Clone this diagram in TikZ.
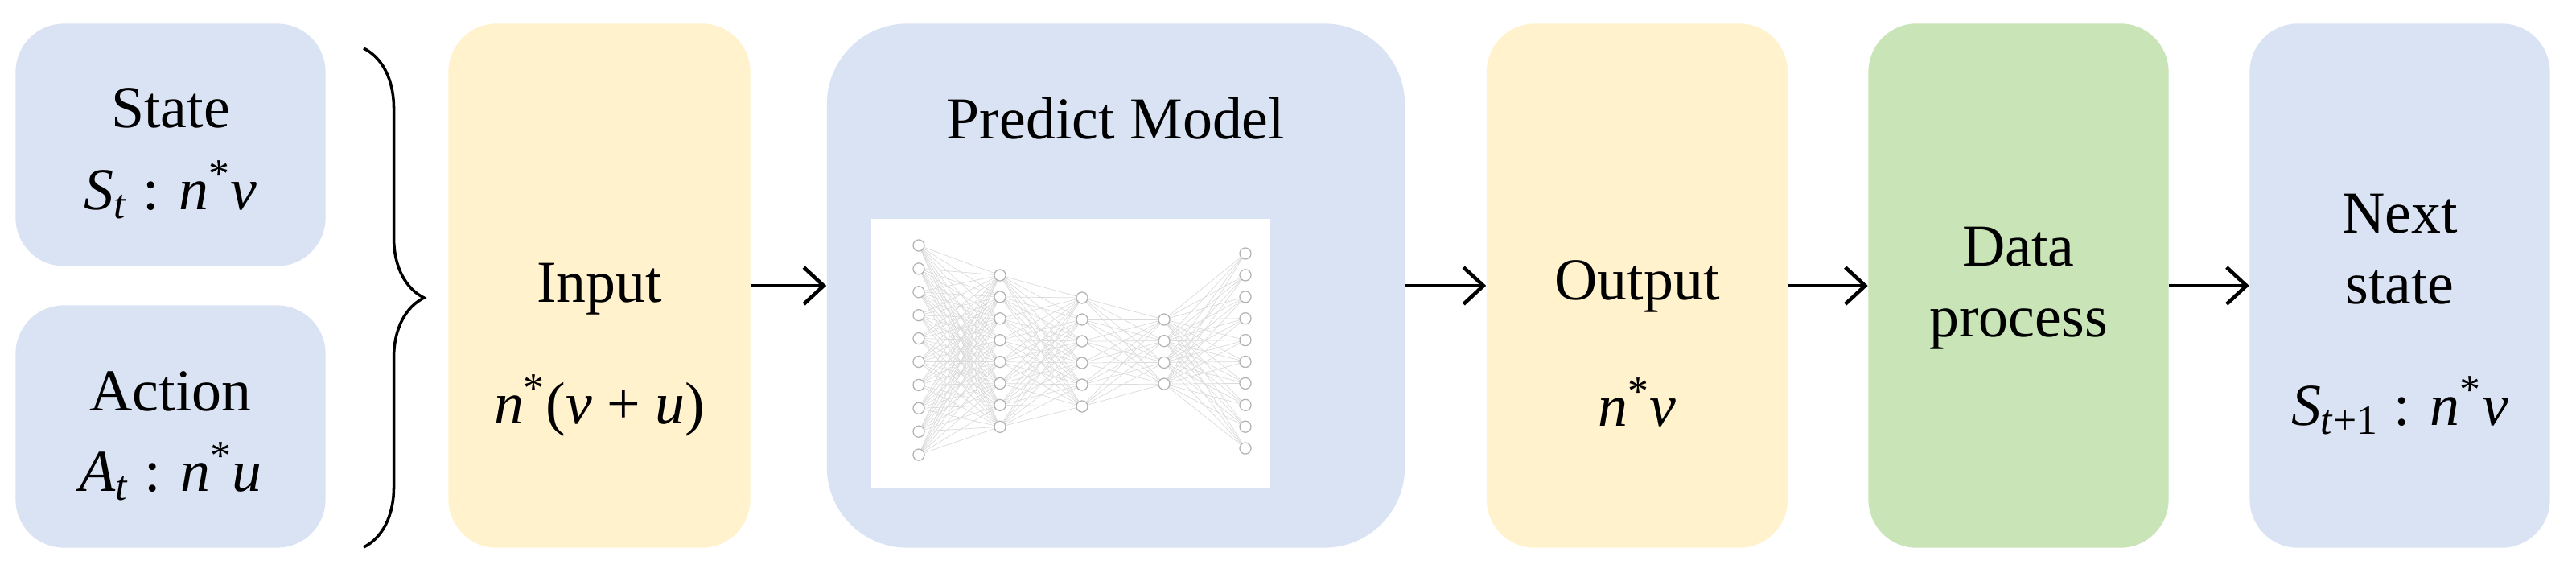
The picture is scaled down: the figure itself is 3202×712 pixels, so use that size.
\documentclass[tikz,border=0pt]{standalone}
\usepackage{fontspec}
\setmainfont{Liberation Serif}
\usetikzlibrary{arrows.meta,decorations.pathreplacing}

\definecolor{boxblue}{HTML}{DAE3F3}
\definecolor{boxyellow}{HTML}{FFF2CC}
\definecolor{boxgreen}{HTML}{C9E4B6}

\tikzset{
    box/.style={draw=none, rounded corners=0.6cm, inner sep=0pt, minimum height=6.51cm},
    lbl/.style={font=\fontsize{21}{25}\selectfont, align=center, inner sep=1pt},
    flow/.style={-{Straight Barb[length=7pt,width=13pt]}, line width=1.3pt},
    neuron/.style={circle, draw=gray!60, fill=white, line width=0.35pt, minimum size=4pt, inner sep=0pt},
}

\newcommand{\iv}[1]{\textit{#1}}

\begin{document}
\begin{tikzpicture}[x=0.01cm, y=-0.01cm]
        \useasboundingbox (0,0) rectangle (3202,712);

        % Boxes
        \node[box, fill=boxblue, minimum width=3.85cm, minimum height=3.01cm] (state) at (212,180) {};
        \node[box, fill=boxblue, minimum width=3.85cm, minimum height=3.01cm] (action) at (212,530) {};
        \node[box, fill=boxyellow, minimum width=3.75cm] (input) at (745,355) {};
        \node[box, fill=boxblue, rounded corners=1cm, minimum width=7.18cm] (model) at (1387,355) {};
        \node[box, fill=boxyellow, minimum width=3.74cm] (output) at (2035,355) {};
        \node[box, fill=boxgreen, minimum width=3.73cm] (proc) at (2509,355) {};
        \node[box, fill=boxblue, minimum width=3.73cm] (next) at (2983,355) {};

        % Texts
        \node[lbl] (stateT) at (212,134) {State};
        \node[lbl] (stateM) at (212,236) {\iv{S}\textsubscript{\iv{t}} : \iv{n}\textsuperscript{*}\iv{v}};
        \node[lbl] (actionT) at (212,486) {Action};
        \node[lbl] (actionM) at (212,586) {\iv{A}\textsubscript{\iv{t}} : \iv{n}\textsuperscript{*}\iv{u}};
        \node[lbl] (inputT) at (745,359) {Input};
        \node[lbl] (inputM) at (745,504) {\iv{n}\textsuperscript{*}(\iv{v} + \iv{u})};
        \node[lbl] (modelT) at (1387,147) {Predict Model};
        \node[lbl] (outputT) at (2035,356) {Output};
        \node[lbl] (outputM) at (2035,500) {\iv{n}\textsuperscript{*}\iv{v}};
        \node[lbl] (procT) at (2509,358) {Data\\process};
        \node[lbl] (nextT) at (2983,310) {Next\\state};
        \node[lbl] (nextM) at (2983,504) {\iv{S}\textsubscript{\iv{t}+1} : \iv{n}\textsuperscript{*}\iv{v}};

        % Brace
        \draw[decorate, decoration={brace, amplitude=0.75cm}, line width=1pt] (452,60) -- (452,680);
        \coordinate (tip) at (537,369);

        % Network picture
        \node[fill=white, minimum width=4.96cm, minimum height=3.34cm, inner sep=0pt] (net) at (1331,439) {};
        \foreach \l/\x/\n/\ytop/\dy in {1/1142/10/305/28.9, 2/1243/8/342/26.9, 3/1345/6/370/27, 4/1447/4/397/26.7, 5/1548/10/315/26.9}
            \foreach \i in {1,...,\n}
                \coordinate (n\l-\i) at (\x,\ytop+\dy*\i-\dy);
        \foreach \a/\na/\b/\nb in {1/10/2/8, 2/8/3/6, 3/6/4/4, 4/4/5/10}
            \foreach \i in {1,...,\na}
                \foreach \j in {1,...,\nb}
                    \draw[gray!28, line width=0.2pt] (n\a-\i) -- (n\b-\j);
        \foreach \l/\n in {1/10, 2/8, 3/6, 4/4, 5/10}
            \foreach \i in {1,...,\n}
                \node[neuron] (c\l-\i) at (n\l-\i) {};

        % Arrows
        \draw[flow] (input.east) -- (model.west);
        \draw[flow] (model.east) -- (output.west);
        \draw[flow] (output.east) -- (proc.west);
        \draw[flow] (proc.east) -- (next.west);

\end{tikzpicture}
\end{document}
